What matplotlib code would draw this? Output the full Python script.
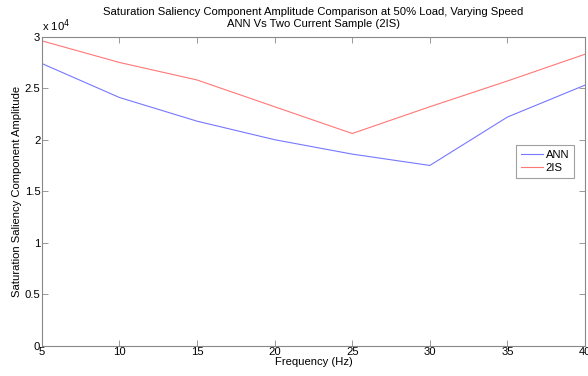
import matplotlib
matplotlib.use("Agg")
import matplotlib.pyplot as plt
from matplotlib.ticker import FuncFormatter

plt.rcParams['font.family'] = ['Liberation Sans', 'DejaVu Sans']

freq = [5, 10, 15, 20, 25, 30, 35, 40]
ann = [27400, 24100, 21800, 20000, 18600, 17500, 22200, 25300]
tis = [29600, 27500, 25800, 23200, 20600, 23200, 25700, 28300]
yticks = [0, 5000, 10000, 15000, 20000, 25000, 30000]
xticks = [5, 10, 15, 20, 25, 30, 35, 40]

fs = 8.1
fig = plt.figure(figsize=(5.88, 3.76), dpi=100)
ax = fig.add_axes([0.071, 0.0806, 0.924, 0.8218])
ax.plot(freq, ann, color='#7777ff', lw=0.8, label='ANN')
ax.plot(freq, tis, color='#ff7777', lw=0.8, label='2IS')
ax.set_xlim(5, 40)
ax.set_ylim(0, 30000)
ax.set_xticks(xticks)
ax.set_yticks(yticks)
ax.yaxis.set_major_formatter(FuncFormatter(lambda v, p: ('%g' % (v / 1e4))))
ax.tick_params(direction='in', top=True, right=True, length=4, width=0.6,
               color='#888888', labelsize=fs, pad=1)
for s in ax.spines.values():
    s.set_color('#888888')
    s.set_linewidth(0.8)
ax.set_xlabel('Frequency (Hz)', fontsize=fs, labelpad=0)
ax.set_ylabel('Saturation Saliency Component Amplitude', fontsize=fs, labelpad=2)
ax.set_title('Saturation Saliency Component Amplitude Comparison at 50% Load, Varying Speed\nANN Vs Two Current Sample (2IS)',
             fontsize=fs, pad=7, linespacing=1.2)
ax.text(0.0, 1.008, 'x 10$^4$', transform=ax.transAxes, fontsize=fs, ha='left', va='bottom')
leg = ax.legend(loc='upper left', bbox_to_anchor=(0.873, 0.648), fontsize=fs, frameon=True,
                fancybox=False, edgecolor='#888888', handlelength=2.0, handletextpad=0.25,
                borderpad=0.4, labelspacing=0.3, borderaxespad=0)
leg.get_frame().set_linewidth(0.8)
fig.savefig('out.png', dpi=100)
